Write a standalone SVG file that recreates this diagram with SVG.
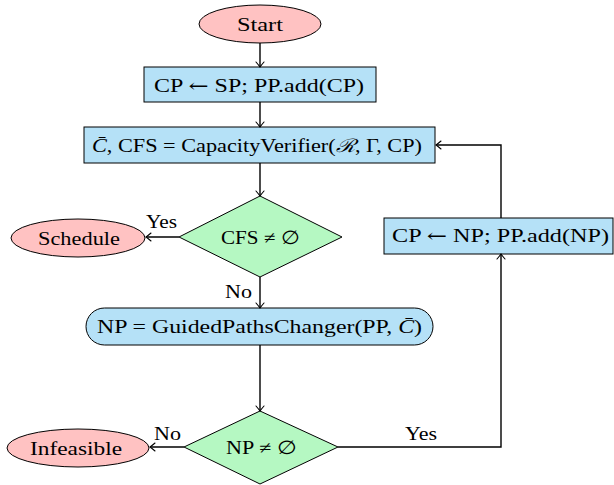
<svg xmlns="http://www.w3.org/2000/svg" width="614" height="485" viewBox="0 0 614 485" font-family="'Liberation Serif', 'DejaVu Serif', serif">
<defs>
<marker id="arr" viewBox="-6 -5 8 10" markerWidth="8" markerHeight="10" refX="0" refY="0" orient="auto" markerUnits="userSpaceOnUse">
<path d="M-5,-4 Q-1.5,-1 0,0 Q-1.5,1 -5,4" fill="none" stroke="#000" stroke-width="1.1" stroke-linecap="round"/>
</marker>
</defs>
<style>
text{font-size:18.5px;fill:#000;text-anchor:middle}
.term{fill:#FFC2C2;stroke:#000;stroke-width:1}
.proc{fill:#B5E1F7;stroke:#000;stroke-width:1}
.dec{fill:#B5F8C2;stroke:#000;stroke-width:1}
.edge{fill:none;stroke:#000;stroke-width:1.4;marker-end:url(#arr)}
.it{font-style:italic}
.sym{font-family:"DejaVu Serif",serif}
</style>
<g id="start"><ellipse class="term" cx="260" cy="24" rx="61" ry="19"/><text x="260" y="31" textLength="46" lengthAdjust="spacingAndGlyphs">Start</text></g>
<g id="init"><rect class="proc" x="144" y="67" width="232" height="35"/><text x="259" y="91.5" textLength="210" lengthAdjust="spacingAndGlyphs">CP <tspan class="sym">←</tspan> SP; PP.add(CP)</text></g>
<g id="verify"><rect class="proc" x="84" y="127" width="351" height="36"/><text x="257" y="152" textLength="330" lengthAdjust="spacingAndGlyphs"><tspan class="it">C̄</tspan>, CFS = CapacityVerifier(<tspan class="it">ℛ</tspan>, Γ, CP)</text></g>
<g id="cfs"><polygon class="dec" points="260,196 342,237 260,277 179,237"/><text x="260.5" y="243.5" textLength="79" lengthAdjust="spacingAndGlyphs">CFS ≠ ∅</text></g>
<g id="schedule"><ellipse class="term" cx="78" cy="238" rx="67" ry="19"/><text x="79" y="244.5" textLength="82" lengthAdjust="spacingAndGlyphs">Schedule</text></g>
<g id="changer"><rect class="proc" x="86" y="308" width="347" height="37" rx="18.5"/><text x="259.5" y="333" textLength="325" lengthAdjust="spacingAndGlyphs">NP = GuidedPathsChanger(PP, <tspan class="it">C̄</tspan>)</text></g>
<g id="np"><polygon class="dec" points="260,411 338,447 260,484 184,447"/><text x="261.5" y="453.5" textLength="71" lengthAdjust="spacingAndGlyphs">NP ≠ ∅</text></g>
<g id="infeasible"><ellipse class="term" cx="78" cy="448" rx="71" ry="19"/><text x="76" y="454.5" textLength="92" lengthAdjust="spacingAndGlyphs">Infeasible</text></g>
<g id="update"><rect class="proc" x="384" y="218" width="229" height="36"/><text x="500.5" y="242" textLength="217" lengthAdjust="spacingAndGlyphs">CP <tspan class="sym">←</tspan> NP; PP.add(NP)</text></g>
<g id="connectors">
<path class="edge" d="M260,43 V67"/>
<path class="edge" d="M260,102 V127"/>
<path class="edge" d="M260,163 V196"/>
<path class="edge" d="M179,237 H146"/>
<path class="edge" d="M260,277 V308"/>
<path class="edge" d="M260,345 V411"/>
<path class="edge" d="M184,447 H150"/>
<path class="edge" d="M338,447 H501 V254"/>
<path class="edge" d="M501,218 V145 H436"/>
<text x="161.5" y="228" textLength="31" lengthAdjust="spacingAndGlyphs">Yes</text>
<text x="238.5" y="298" textLength="27" lengthAdjust="spacingAndGlyphs">No</text>
<text x="167.5" y="440" textLength="27" lengthAdjust="spacingAndGlyphs">No</text>
<text x="421" y="440" textLength="32" lengthAdjust="spacingAndGlyphs">Yes</text>
</g>
</svg>
